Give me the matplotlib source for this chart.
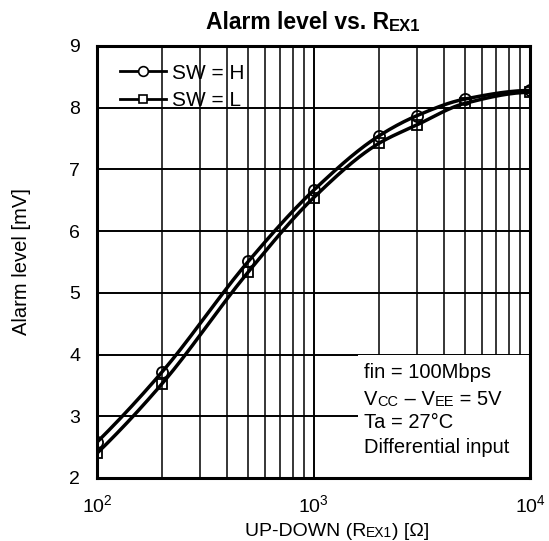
import numpy as np
import matplotlib
matplotlib.use("Agg")
import matplotlib.pyplot as plt
from matplotlib.ticker import LogLocator, FixedLocator, NullFormatter

plt.rcParams['font.family'] = ['Liberation Sans', 'DejaVu Sans']
plt.rcParams['mathtext.fontset'] = 'custom'
plt.rcParams['mathtext.rm'] = 'Liberation Sans'

# data
r_ext = [100, 200, 500, 1000, 2000, 3000, 5000, 10000]
alarm_h = [2.58, 3.72, 5.51, 6.66, 7.54, 7.87, 8.14, 8.28]
alarm_l = [2.40, 3.53, 5.34, 6.54, 7.42, 7.72, 8.07, 8.25]
series_labels = ["SW = H", "SW = L"]
y_ticks = [2, 3, 4, 5, 6, 7, 8, 9]
x_ticks = [100, 1000, 10000]
x_ticklabels = [r"$10^2$", r"$10^3$", r"$10^4$"]
cond_lines = ["fin = 100Mbps", "Ta = 27°C", "Differential input"]


def pchip(x, y, xn):
    x = np.asarray(x, float); y = np.asarray(y, float)
    h = np.diff(x); d = np.diff(y) / h
    n = len(x); m = np.zeros(n)
    for k in range(1, n - 1):
        if d[k - 1] * d[k] > 0:
            w1 = 2 * h[k] + h[k - 1]; w2 = h[k] + 2 * h[k - 1]
            m[k] = (w1 + w2) / (w1 / d[k - 1] + w2 / d[k])
    m[0] = ((2 * h[0] + h[1]) * d[0] - h[0] * d[1]) / (h[0] + h[1])
    if np.sign(m[0]) != np.sign(d[0]): m[0] = 0
    m[-1] = ((2 * h[-1] + h[-2]) * d[-1] - h[-1] * d[-2]) / (h[-1] + h[-2])
    if np.sign(m[-1]) != np.sign(d[-1]): m[-1] = 0
    idx = np.clip(np.searchsorted(x, xn) - 1, 0, n - 2)
    t = (xn - x[idx]) / h[idx]
    h00 = 2 * t**3 - 3 * t**2 + 1; h10 = t**3 - 2 * t**2 + t
    h01 = -2 * t**3 + 3 * t**2; h11 = t**3 - t**2
    return h00 * y[idx] + h10 * h[idx] * m[idx] + h01 * y[idx + 1] + h11 * h[idx] * m[idx + 1]


fig = plt.figure(figsize=(5.49, 5.41), dpi=100)
ax = fig.add_axes([0.1767, 0.1165, 0.7887, 0.7985])
ax.set_xscale('log')
ax.set_xlim(100, 10000)
ax.set_ylim(2, 9)

lx = np.log10(r_ext)
xs = np.linspace(lx[0], lx[-1], 300)
for ys, mk, ms, lab in [(alarm_h, 'o', 8, series_labels[0]), (alarm_l, 's', 7, series_labels[1])]:
    ax.plot(10**xs, pchip(lx, ys, xs), color='black', lw=2.5, zorder=3)
    ax.plot(r_ext, ys, linestyle='none', marker=mk, ms=ms, mfc='none', mec='black', mew=1.3, zorder=4)
    ax.plot([], [], color='black', lw=2.0, marker=mk, ms=ms - 1, mfc='white', mec='black', mew=1.2, label=lab)

ax.yaxis.set_major_locator(FixedLocator(y_ticks))
ax.xaxis.set_major_locator(FixedLocator(x_ticks))
ax.set_xticklabels(x_ticklabels)
ax.xaxis.set_minor_locator(LogLocator(base=10, subs=np.arange(2, 10), numticks=20))
ax.xaxis.set_minor_formatter(NullFormatter())
ax.grid(True, which='major', color='black', lw=1.4, zorder=1)
ax.grid(True, which='minor', axis='x', color='black', lw=1.1, zorder=1)
ax.tick_params(which='both', length=0, labelsize=14, colors='black')
ax.tick_params(axis='x', pad=12)
ax.tick_params(axis='y', pad=12)
for s in ax.spines.values():
    s.set_linewidth(2.2)
    s.set_zorder(6)

leg = ax.legend(loc='upper left', bbox_to_anchor=(0.012, 1.0), frameon=False, fontsize=15,
                handlelength=2.2, handletextpad=0.3, borderaxespad=0.25, borderpad=0.6,
                labelspacing=0.4)

# condition box
ax.add_patch(plt.Rectangle((0.603, 0.0), 0.397, 0.2857, transform=ax.transAxes,
                           facecolor='white', edgecolor='none', zorder=2))
fs = 14.5
x0 = 0.617
ax.text(x0, 0.245, cond_lines[0], transform=ax.transAxes, fontsize=fs, va='center', zorder=5)
t1 = ax.text(x0, 0.169, "V", transform=ax.transAxes, fontsize=fs, va='baseline', zorder=5)
t2 = ax.annotate("CC", xy=(1, 0), xycoords=t1, fontsize=fs * 0.72, va='bottom', ha='left', zorder=5)
t3 = ax.annotate(" \u2013 V", xy=(1, 0), xycoords=t2, fontsize=fs, va='bottom', ha='left', zorder=5)
t4 = ax.annotate("EE", xy=(1, 0), xycoords=t3, fontsize=fs * 0.72, va='bottom', ha='left', zorder=5)
ax.annotate(" = 5V", xy=(1, 0), xycoords=t4, fontsize=fs, va='bottom', ha='left', zorder=5)
ax.text(x0, 0.128, cond_lines[1], transform=ax.transAxes, fontsize=fs, va='center', zorder=5)
ax.text(x0, 0.070, cond_lines[2], transform=ax.transAxes, fontsize=fs, va='center', zorder=5)

fig.canvas.draw()
r = fig.canvas.get_renderer()

# title with small caps
tt = fig.text(0.5, 0.946, "Alarm level vs. R", fontsize=16.5, fontweight='bold', ha='left', va='baseline')
ann = ax.annotate("EX1", xy=(1, 0), xycoords=tt, fontsize=12, fontweight='bold', va='bottom', ha='left',
                  annotation_clip=False)
fig.canvas.draw()
w = tt.get_window_extent(r).width + ann.get_window_extent(r).width
tt.set_x((313 - w / 2) / fig.bbox.width)

# x label with small caps
xl = fig.text(0.5, 0.009, "UP-DOWN (R", fontsize=14, ha='left', va='baseline')
xa = ax.annotate("EX1", xy=(1, 0), xycoords=xl, fontsize=10, va='bottom', ha='left', annotation_clip=False)
xb = ax.annotate(") [\u03a9]", xy=(1, 0), xycoords=xa, fontsize=14, va='bottom', ha='left', annotation_clip=False)
fig.canvas.draw()
tw = (xl.get_window_extent(r).width + xa.get_window_extent(r).width + xb.get_window_extent(r).width)
xl.set_x((337 - tw / 2) / fig.bbox.width)

fig.text(0.04, 0.5157, "Alarm level [mV]", fontsize=14.5, rotation=90, ha='center', va='center')

fig.savefig("out.png", dpi=100)
